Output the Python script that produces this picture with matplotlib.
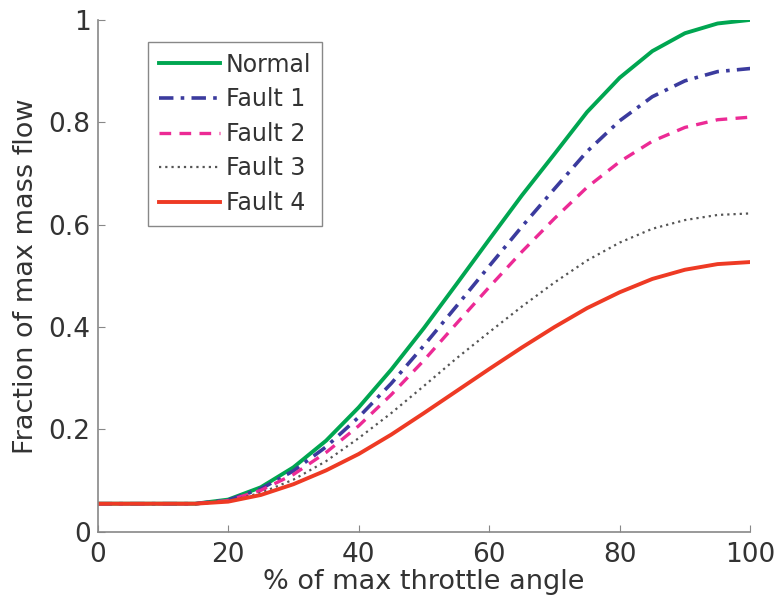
import matplotlib.pyplot as plt
import numpy as np

plt.rcParams['font.family'] = ['DejaVu Sans']

throttle = [0, 5, 10, 15, 20, 25, 30, 35, 40, 45, 50, 55, 60, 65, 70, 75, 80, 85, 90, 95, 100]

normal = [0.055, 0.055, 0.055, 0.055, 0.063, 0.087, 0.126, 0.178, 0.243, 0.317, 0.398,
          0.484, 0.571, 0.657, 0.738, 0.820, 0.887, 0.939, 0.974, 0.993, 1.0]
fault1 = [0.055, 0.055, 0.055, 0.055, 0.062, 0.084, 0.119, 0.166, 0.224, 0.290, 0.364,
          0.441, 0.519, 0.596, 0.670, 0.743, 0.803, 0.850, 0.881, 0.899, 0.905]
fault2 = [0.055, 0.055, 0.055, 0.055, 0.061, 0.081, 0.112, 0.155, 0.207, 0.268, 0.335,
          0.407, 0.478, 0.547, 0.612, 0.673, 0.723, 0.763, 0.790, 0.805, 0.810]
fault3 = [0.055, 0.055, 0.055, 0.055, 0.060, 0.076, 0.102, 0.138, 0.183, 0.232, 0.285,
          0.339, 0.390, 0.440, 0.487, 0.530, 0.565, 0.592, 0.609, 0.619, 0.622]
fault4 = [0.055, 0.055, 0.055, 0.055, 0.059, 0.072, 0.093, 0.120, 0.152, 0.190, 0.232,
          0.275, 0.318, 0.360, 0.400, 0.437, 0.468, 0.494, 0.512, 0.523, 0.527]

fig = plt.figure(figsize=(7.75, 6.03), dpi=100)
ax = fig.add_axes([0.126, 0.118, 0.842, 0.849])

ax.plot(throttle, normal, color='#00a651', lw=2.8, label='Normal')
ax.plot(throttle, fault1, color='#3b3b9e', lw=2.6, linestyle=(0, (4, 2, 1, 2)), label='Fault 1')
ax.plot(throttle, fault2, color='#ec2a95', lw=2.4, linestyle=(0, (3.5, 2.5)), label='Fault 2')
ax.plot(throttle, fault3, color='#555555', lw=1.6, linestyle=(0, (1, 1.8)), label='Fault 3')
ax.plot(throttle, fault4, color='#ee3a24', lw=2.8, label='Fault 4')

ax.set_xlim(0, 100)
ax.set_ylim(0, 1)
ax.set_xticks([0, 20, 40, 60, 80, 100])
ax.set_yticks([0, 0.2, 0.4, 0.6, 0.8, 1.0])
ax.set_yticklabels(['0', '0.2', '0.4', '0.6', '0.8', '1'])

for s in ['top', 'right']:
    ax.spines[s].set_visible(False)
for s in ['left', 'bottom']:
    ax.spines[s].set_color('#888888')
    ax.spines[s].set_linewidth(1.2)
ax.tick_params(direction='in', length=5, color='#888888', labelsize=19, labelcolor='#333333')
ax.tick_params(axis='x', pad=7)
ax.tick_params(axis='y', pad=5)

ax.set_xlabel('% of max throttle angle', fontsize=19.5, color='#333333', labelpad=1)
ax.set_ylabel('Fraction of max mass flow', fontsize=19.5, color='#333333', labelpad=7)

leg = ax.legend(loc='upper left', bbox_to_anchor=(0.077, 0.957), borderaxespad=0,
                fontsize=17, handlelength=2.6, handletextpad=0.25, labelspacing=0.45,
                fancybox=False, framealpha=1, edgecolor='#888888', borderpad=0.45)
for t in leg.get_texts():
    t.set_color('#333333')

fig.savefig('out.png', dpi=100)
